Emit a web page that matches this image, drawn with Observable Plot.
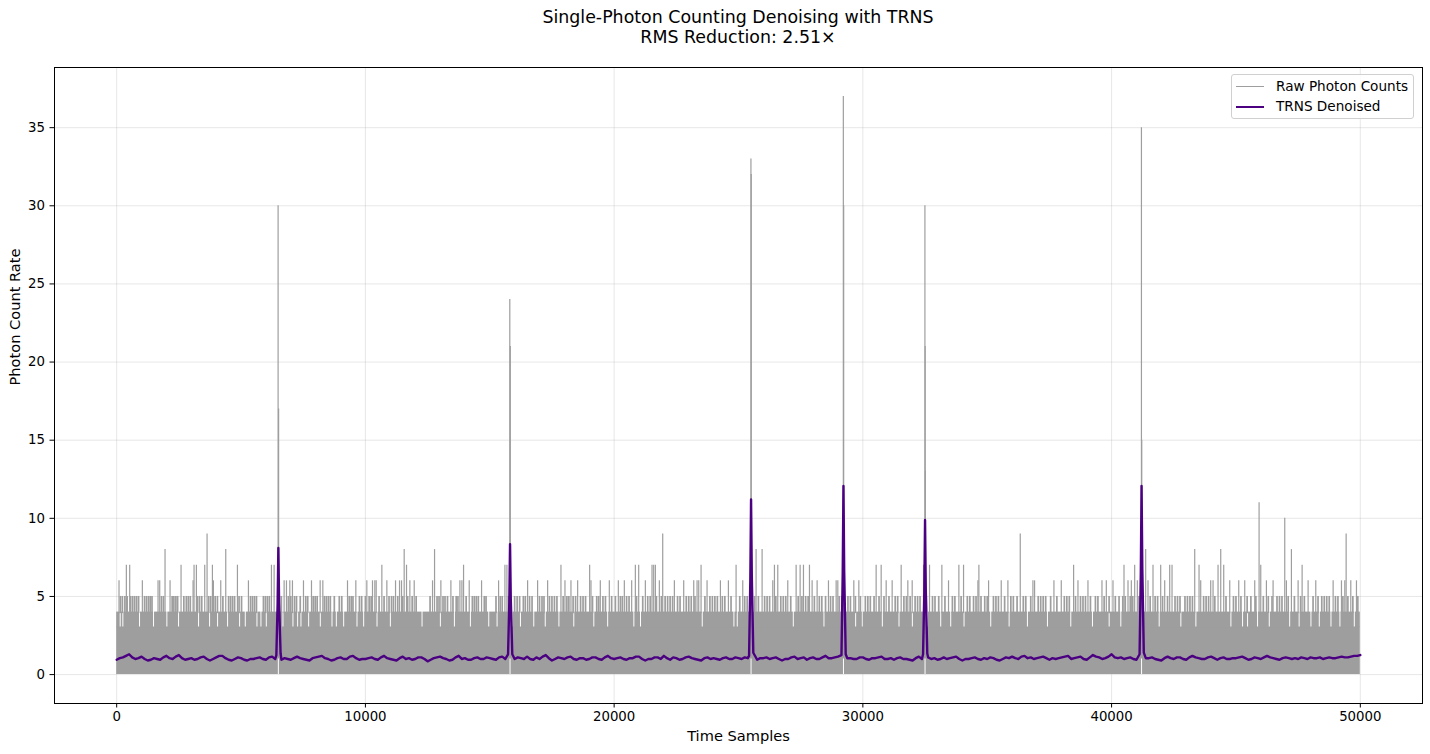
<!DOCTYPE html>
<html><head><meta charset="utf-8">
<script src="https://cdn.jsdelivr.net/npm/d3@7"></script>
<script src="https://cdn.jsdelivr.net/npm/@observablehq/plot@0.6"></script>
<style>
body{margin:0;background:#fff;font-family:"DejaVu Sans",sans-serif;}
#wrap{position:relative;width:1430px;height:754px;overflow:hidden;}
#title{height:58px;box-sizing:border-box;padding-top:7px;padding-left:46px;text-align:center;font-size:17.4px;line-height:20px;color:#000;}
#legend{position:absolute;left:1231px;top:74px;width:183px;height:45px;box-sizing:border-box;border:1px solid #d0d0d0;border-radius:3px;background:rgba(255,255,255,0.85);font-size:13.6px;color:#000;}
#legend .sw{position:absolute;left:4px;width:28px;}
#legend .lb{position:absolute;left:44px;line-height:16px;white-space:nowrap;}
</style>
</head><body>
<div id="wrap">
<div id="title">Single-Photon Counting Denoising with TRNS<br>RMS Reduction: 2.51×</div>
<div id="chart"></div>
<div id="legend">
  <div class="sw" style="top:10.5px;height:0;border-top:1px solid #9e9e9e;"></div>
  <div class="lb" style="top:2.5px;">Raw Photon Counts</div>
  <div class="sw" style="top:30.5px;height:0;border-top:2px solid #4b0082;"></div>
  <div class="lb" style="top:23px;">TRNS Denoised</div>
</div>
</div>
<script>
// ---------- axis ticks ----------
const xTicks = [0, 10000, 20000, 30000, 40000, 50000];
const yTicks = [0, 5, 10, 15, 20, 25, 30, 35];

// ---------- raw photon counts (per-column envelope) ----------
const sampleFirst = 0;
const sampleLast = 49999;
const rawFloor = 0;
const rawSolidTop = 3;     // every column reaches 3
const rawCommonTop = 4;    // nearly every column reaches 4
// columns whose max only reaches 3
const rawTopAt3 = [161, 268, 939, 1502, 2038, 2508, 3312, 3755, 4077, 4479, 4962, 5190, 5660, 5820, 6035, 6705, 7107, 7295, 7429, 7738, 8207, 8677, 8851, 9146, 9682, 9950,
  10487, 11023, 12297, 13034, 13598, 14241, 14979, 15314, 15918, 16253, 16789, 17250, 17800, 18398, 19203, 19760,
  20813, 21081, 23562, 24836, 24970, 27223, 28456, 29730,
  29998, 30803, 31473, 32010, 32613, 33150, 33552, 34088, 35161, 35900, 36636, 37441, 38379, 39251, 39922,
  40391, 41933, 42805, 43409, 44817, 45286, 45487, 45889, 46359, 47180, 47560, 48035, 48370, 48840, 49200, 49778];
const rawSpike5 = [150, 230, 330, 420, 560, 640, 720, 800, 880, 1120, 1200, 1280, 1350, 1420, 1800, 1880, 2230, 2300, 2380, 2450, 2700, 2800, 2880, 2960, 3250, 3330, 3420, 3700, 3780, 3960, 4050, 4270, 4500, 4580, 4660, 4740, 4920, 5020, 5380, 5460, 5540, 5620, 5900, 5980, 6060, 6140, 6620, 6900, 7000, 7150, 7230, 7380, 7600, 7680, 7900, 7980, 8060, 8350, 8430, 8510, 8590, 8750, 8950, 9050, 9350, 9430, 9500, 9760, 9850, 10000,
  10150, 10230, 10550, 10750, 10950, 11050, 11130, 11300, 11500, 11700, 11880, 12040, 12600, 12880, 12960, 13120, 13200, 13300, 13520, 13650, 13720, 14050, 14300, 14380, 14460, 14540, 14780, 14850, 15250, 15420, 15500, 15750, 16000, 16100, 16200, 16350, 16430, 16600, 16700, 17000, 17100, 17180, 17400, 17500, 17600, 17700, 17950, 18100, 18180, 18350, 18450, 18650, 18750, 18850, 19130, 19300, 19380, 19550, 19650, 19900,
  20050, 20250, 20330, 20500, 20600, 20900, 21150, 21350, 21450, 21700, 21900, 22050, 22150, 22250, 22350, 22550, 22650, 22900, 23000, 23100, 23250, 23650, 23850, 23950, 24050, 24150, 24350, 24450, 24700, 25050, 25250, 25350, 25650, 25800, 26050, 26150, 26250, 26500, 26700, 26800, 26900, 27100, 27400, 27550, 27700, 27800, 28050, 28250, 28350, 28500, 28700, 28800, 29050, 29150, 29400, 29500, 29700, 29900,
  30100, 30200, 30300, 30450, 30650, 30850, 31050, 31300, 31400, 31650, 31750, 31900, 32100, 32200, 32300, 32550, 32800, 32900, 33050, 33300, 33600, 33700, 33950, 34200, 34300, 34450, 34550, 34750, 34900, 35000, 35250, 35350, 35450, 35700, 35950, 36050, 36200, 36450, 36550, 36750, 37050, 37150, 37250, 37350, 37550, 37800, 38100, 38200, 38300, 38550, 38750, 38850, 38950, 39150, 39350, 39450, 39700, 39900,
  40150, 40300, 40450, 40550, 40750, 40850, 41100, 41550, 41750, 41850, 42050, 42250, 42550, 42650, 42750, 42950, 43050, 43150, 43250, 43700, 43800, 43900, 44150, 44600, 44900, 45000, 45200, 45450, 45600, 45800, 46100, 46300, 46450, 46650, 46750, 46850, 47100, 47350, 47600, 47750, 48100, 48300, 48450, 48550, 48650, 48750, 49000, 49100, 49300, 49500, 49700, 49900];
const rawSpike6 = [94, 1032, 1663, 1730, 2146, 3071, 3889, 4184, 5297, 6732, 6826, 6960, 7067, 7510, 7832, 8181, 8288, 9280, 9615, 10057, 10285, 10379, 10433, 10862, 11211, 11372, 11452, 11787, 11962, 12699, 13034, 13437, 13799, 13879, 14174, 14670, 15354, 16521, 16923, 17326, 18023, 18264, 18533, 19069, 19444, 19806, 20169, 20410, 20705, 21255, 21818, 22422, 22797, 23200, 23334, 23401, 23736, 24273, 24594, 25171, 26378, 26981, 27960, 28161, 28617, 28926, 28993, 29636, 29838, 30937, 31178, 31808, 31983, 33444, 34625, 35054, 35563, 35831, 36837, 36904, 37682, 37977, 38648, 39050, 39613, 39788, 40056, 40660, 40794, 41035, 41464, 42135, 43583, 43985, 44079, 44750, 45112, 45353, 45755, 46225, 46493, 47029, 47499, 47901, 48209, 48907, 49242, 49376, 49617, 49845];
const rawSpike7 = [389, 523, 2588, 3111, 3205, 3540, 3849, 4855, 6222, 6330, 10661, 11653, 13946, 15609, 15690, 17862, 19015, 20853, 20987, 21523, 21590, 21658, 23495, 24903, 26445, 26579, 27317, 27478, 27612, 27853, 30534, 30736, 31540, 32439, 32680, 33176, 33860, 34048, 34665, 38473, 40499, 40928, 41665, 41974, 42336, 42430, 43516, 44280, 44508, 45997, 47660];
const rawSpike8 = [1944, 4385, 11559, 12780, 25707, 25949, 41370, 43342, 44388, 47230];
const rawSpike9 = [3634, 21953, 36328, 49430];
const rawSpike10 = [46962];
const rawSpike11 = [45930];
// bursts
const rawPeakX = [6490, 6510, 15805, 15825, 25500, 25512, 29215, 29228, 32495, 32505, 32515, 41200, 41212];
const rawPeakY = [30, 17, 24, 21, 33, 32, 37, 30, 30, 21, 13, 35, 15];
// raw minimum lifted above zero inside each burst
const rawBurstFloorX = [6500, 15815, 25505, 29220, 32500, 41205];
const rawBurstFloorY = [1.0, 1.0, 1.0, 1.0, 1.0, 1.0];

// ---------- TRNS denoised ----------
const trnsStep = 250;
// values at 0, 250, 500, ...
const trnsBase = [
  0.95,1.1,1.3,1.0,1.15,0.9,1.05,0.95,1.2,1.0,1.25,0.95,1.05,1.0,1.15,0.9,1.1,1.2,0.95,1.0,
  1.05,0.9,1.0,1.1,0.95,1.15,1.1,1.05,0.95,1.15,1.0,0.9,1.1,1.2,1.0,0.95,1.1,1.0,1.2,0.95,
  1.0,1.1,0.95,1.2,1.0,0.9,1.15,1.05,1.0,1.1,0.85,1.05,1.15,1.0,0.95,1.2,1.05,0.95,1.1,1.0,
  1.05,0.95,1.15,1.1,1.0,1.05,1.15,0.95,1.0,1.25,0.9,1.1,1.0,1.15,0.95,1.05,1.0,1.1,0.95,1.2,
  1.0,1.1,0.95,1.05,1.15,0.9,1.0,1.1,1.2,0.95,1.05,1.0,1.15,1.0,0.9,1.1,1.05,0.95,1.1,1.0,
  1.05,1.1,1.15,0.95,1.05,1.0,1.1,0.9,1.0,1.15,1.05,0.95,1.1,1.0,1.2,1.05,1.15,0.95,1.05,1.0,
  1.1,0.95,1.05,1.15,1.0,0.95,1.1,1.0,0.9,1.15,1.05,1.0,0.95,1.1,1.05,1.15,0.9,1.0,1.1,0.95,
  1.0,1.05,0.9,1.1,1.15,1.0,1.2,1.1,1.05,1.15,0.95,1.0,1.1,1.2,1.05,1.15,0.95,1.25,1.1,1.05,
  1.3,1.05,1.0,1.1,0.95,1.2,1.05,1.0,0.9,1.15,1.0,1.1,0.95,1.2,1.05,1.0,1.15,0.95,1.1,1.0,
  1.05,1.15,0.95,1.1,1.0,1.2,1.05,0.95,1.1,1.0,1.0,1.05,1.1,1.05,1.0,1.1,1.05,1.15,1.1,1.2,
  1.25];
// values at 125, 375, 625, ...
const trnsMid = [
  1.05,1.2,1.1,1.05,1.0,0.95,1.0,1.1,1.05,1.15,1.05,1.0,0.95,1.1,1.0,1.0,1.2,1.05,0.9,1.1,
  0.95,1.0,1.05,1.0,1.1,1.0,0.95,1.0,1.05,1.05,0.95,1.05,1.15,1.05,0.9,1.05,1.0,1.15,1.05,1.0,
  1.05,1.0,1.1,1.05,0.95,1.05,1.0,0.95,1.1,1.0,0.95,1.1,1.05,0.9,1.1,1.0,0.95,1.05,1.0,1.1,
  1.0,1.1,1.0,1.0,1.1,1.0,1.0,1.1,1.15,1.05,1.0,1.05,1.1,1.0,1.05,0.95,1.1,1.0,1.1,1.05,
  1.05,1.0,1.05,1.15,1.0,1.0,1.1,1.0,1.05,1.1,0.95,1.1,1.05,0.95,1.05,1.0,1.0,1.05,1.0,1.1,
  1.0,1.05,1.0,1.05,1.1,1.05,1.0,1.0,1.1,1.0,1.1,1.05,1.0,1.1,1.05,1.1,1.0,1.05,1.0,1.1,
  1.0,1.05,1.1,1.0,1.05,1.05,1.0,0.95,1.05,1.0,1.1,1.05,1.0,1.0,1.1,1.0,1.0,1.05,1.0,1.05,
  1.1,0.95,1.0,1.05,1.05,1.15,1.05,1.0,1.1,1.05,1.05,1.05,1.15,1.0,1.1,1.0,1.1,1.15,1.0,1.15,
  1.1,1.1,1.05,1.0,1.1,1.05,1.1,0.95,1.05,1.05,1.1,1.0,1.1,1.1,1.0,1.1,1.05,1.05,1.0,1.05,
  1.1,1.05,1.0,1.05,1.1,1.1,1.0,1.05,1.05,1.05,1.1,1.0,1.05,1.1,1.05,1.05,1.1,1.1,1.15,1.2];
const trnsPeakCenters = [6500, 15815, 25505, 29220, 32500, 41205];
const trnsPeakX = [6420,6470,6500,6530,6590, 15735,15785,15815,15845,15905, 25425,25475,25505,25535,25595,
  29140,29190,29220,29250,29310, 32420,32470,32500,32530,32590, 41125,41175,41205,41235,41295];
const trnsPeakY = [1.25,4.5,8.1,4.6,1.35, 1.3,4.6,8.35,4.8,1.3, 1.2,6.0,11.2,6.3,1.4,
  1.25,6.5,12.07,6.6,1.3, 1.3,5.2,9.9,5.4,1.35, 1.3,6.5,12.07,6.8,1.4];

// ---------- styles ----------
const rawColor = "#9e9e9e";
const trnsColor = "#4b0082";

// ---------- build tables ----------
const band = [{x: sampleFirst, lo: rawFloor, hi: rawSolidTop + 0.05}, {x: sampleLast, lo: rawFloor, hi: rawSolidTop + 0.05}];
const gapHalf = 20;
const gaps = rawTopAt3.slice().sort((a, b) => a - b);
const segStarts = [sampleFirst, ...gaps.map(g => g + gapHalf)];
const segEnds = [...gaps.map(g => g - gapHalf), sampleLast];
const segments = segStarts.map((s, i) => ({x1: s, x2: segEnds[i], y1: rawSolidTop, y2: rawCommonTop}));
const spikes5 = rawSpike5.map(x => ({x, lo: rawCommonTop - 0.1, hi: 5}));
const spikes = [];
[[rawSpike6, 6], [rawSpike7, 7], [rawSpike8, 8], [rawSpike9, 9], [rawSpike10, 10], [rawSpike11, 11]]
  .forEach(([xs, lvl]) => xs.forEach(x => spikes.push({x, lo: rawCommonTop - 0.1, hi: lvl})));
rawPeakX.forEach((x, i) => spikes.push({x, lo: rawFloor, hi: rawPeakY[i]}));
const floors = rawBurstFloorX.map((x, i) => ({x, lo: rawFloor, hi: rawBurstFloorY[i]}));

const trns = [];
const awayFromPeaks = x => trnsPeakCenters.every(c => Math.abs(x - c) > 120);
trnsBase.forEach((v, i) => {
  const x = Math.min(i * trnsStep, sampleLast);
  if (awayFromPeaks(x)) trns.push({x, y: v});
});
trnsMid.forEach((v, i) => {
  const x = i * trnsStep + trnsStep / 2;
  if (awayFromPeaks(x)) trns.push({x, y: v});
});
trnsPeakX.forEach((x, i) => trns.push({x, y: trnsPeakY[i]}));
trns.sort((a, b) => a.x - b.x);

const chart = Plot.plot({
  width: 1430,
  height: 696,
  marginTop: 9,
  marginBottom: 51,
  marginLeft: 54,
  marginRight: 8,
  x: {domain: [-2500, 52500]},
  y: {domain: [-1.85, 38.85]},
  style: {fontFamily: "'DejaVu Sans', sans-serif", fontSize: "13.3px", color: "#000", background: "#fff"},
  marks: [
    Plot.gridX(xTicks, {stroke: "#b0b0b0", strokeOpacity: 0.3, strokeWidth: 1}),
    Plot.gridY(yTicks, {stroke: "#b0b0b0", strokeOpacity: 0.3, strokeWidth: 1}),
    Plot.area(band, {x1: "x", y1: "lo", y2: "hi", fill: rawColor}),
    Plot.rect(segments, {x1: "x1", x2: "x2", y1: "y1", y2: "y2", fill: rawColor}),
    Plot.ruleX(spikes5, {x: "x", y1: "lo", y2: "hi", stroke: rawColor, strokeWidth: 1.7}),
    Plot.ruleX(spikes, {x: "x", y1: "lo", y2: "hi", stroke: rawColor, strokeWidth: 1.2}),
    Plot.ruleX(floors, {x: "x", y1: "lo", y2: "hi", stroke: "#ffffff", strokeWidth: 1}),
    Plot.line(trns, {x: "x", y: "y", stroke: trnsColor, strokeWidth: 2.4, strokeLinejoin: "round", strokeLinecap: "round"}),
    Plot.frame({stroke: "#000", strokeWidth: 1}),
    Plot.axisX(xTicks, {tickSize: 4.5, tickPadding: 4, label: null, tickFormat: d3.format("d"), fontSize: 13.3}),
    Plot.axisY(yTicks, {tickSize: 4.5, tickPadding: 5, label: null, tickFormat: d3.format("d"), fontSize: 13.3}),
    Plot.text(["Time Samples"], {text: d => d, frameAnchor: "bottom", dy: 37, fontSize: 14.6}),
    Plot.text(["Photon Count Rate"], {text: d => d, frameAnchor: "left", dx: -39, rotate: -90, fontSize: 14.6})
  ]
});
document.getElementById("chart").appendChild(chart);
</script>
</body></html>
